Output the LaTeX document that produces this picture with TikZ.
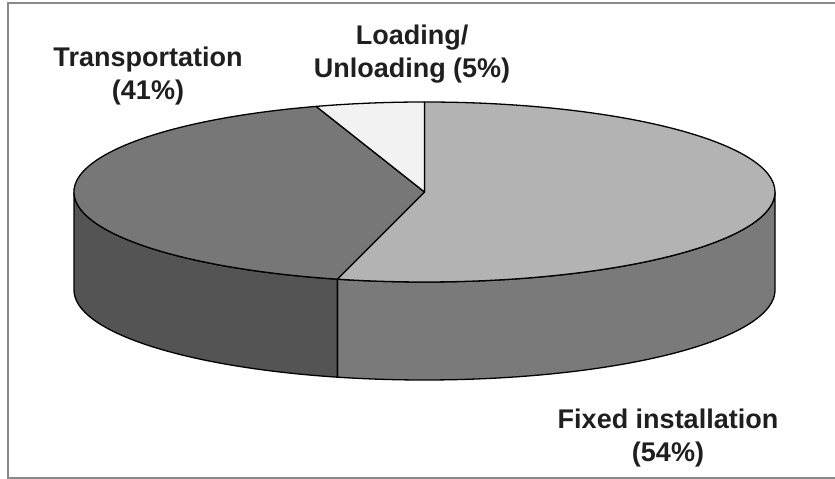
\documentclass[tikz,border=0pt]{standalone}
\usepackage{fontspec}
\setmainfont{Liberation Sans}
\definecolor{fixtop}{HTML}{B3B3B3}
\definecolor{fixside}{HTML}{7A7A7A}
\definecolor{trtop}{HTML}{777777}
\definecolor{trside}{HTML}{545454}
\definecolor{loadtop}{HTML}{F2F2F2}
\definecolor{framegray}{HTML}{8A8A8A}
\begin{document}
\begin{tikzpicture}[x=1pt,y=1pt,
  slice/.style={draw=black,line width=1.3pt,line join=round},
  rad/.style={x radius=350.5pt,y radius=90pt},
  lbl/.style={inner sep=0pt,align=center,text=black!88,
    font=\fontsize{27}{33}\selectfont\bfseries},
  frameline/.style={draw=framegray,line width=1.6pt}]
\useasboundingbox (0,0) rectangle (835,479);
\fill[white] (0,0) rectangle (835,479);
% frame (open on the right)
\draw[frameline] (836,476) -- (8,476) -- (8,1) -- (836,1);

% pie geometry: centre of the top face, wall height 98pt
\coordinate (c) at (424.5,287);

% side walls
\path[slice,fill=fixside] (c) ++(-104.4:350.5pt and 90pt)
  arc[start angle=-104.4,end angle=0,rad]
  -- ++(0,-98)
  arc[start angle=0,end angle=-104.4,rad]
  -- cycle;
\path[slice,fill=trside] (c) ++(180:350.5pt and 90pt)
  arc[start angle=180,end angle=255.6,rad]
  -- ++(0,-98)
  arc[start angle=255.6,end angle=180,rad]
  -- cycle;

% top faces
\path[slice,fill=fixtop] (c) -- ++(90:350.5pt and 90pt)
  arc[start angle=90,end angle=-104.4,rad] -- cycle;
\path[slice,fill=trtop] (c) -- ++(108:350.5pt and 90pt)
  arc[start angle=108,end angle=255.6,rad] -- cycle;
\path[slice,fill=loadtop] (c) -- ++(90:350.5pt and 90pt)
  arc[start angle=90,end angle=108,rad] -- cycle;

% labels (base anchor sits on the last line)
\node[lbl,anchor=base] (transport) at (148,379) {Transportation\\(41\%)};
\node[lbl,anchor=base] (loading) at (412,401) {Loading/\\Unloading (5\%)};
\node[lbl,anchor=base] (fixed) at (668,17) {Fixed installation\\(54\%)};
\end{tikzpicture}
\end{document}
